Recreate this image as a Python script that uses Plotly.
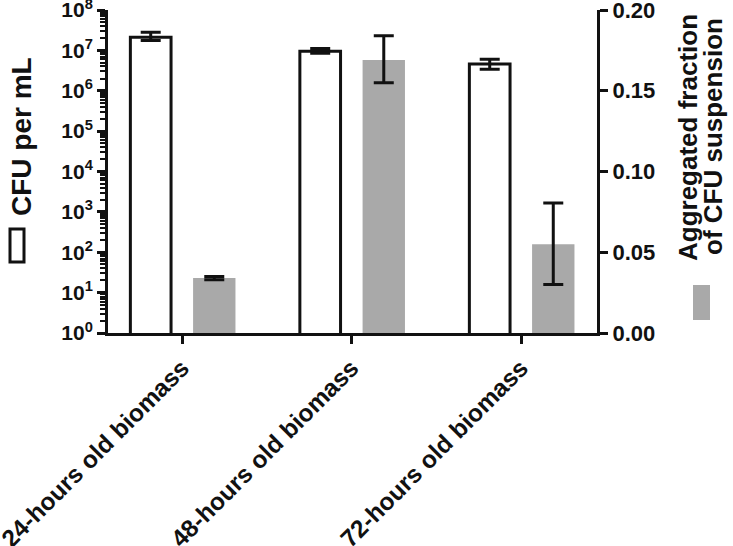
import plotly.graph_objects as go

categories = ["24-hours old biomass", "48-hours old biomass", "72-hours old biomass"]
cfu_mean = [2.1e7, 9.5e6, 4.6e6]
cfu_upper = [2.8e7, 1.12e7, 6.0e6]
cfu_lower = [1.75e7, 8.5e6, 3.4e6]
agg_mean = [0.034, 0.169, 0.055]
agg_upper = [0.035, 0.184, 0.0805]
agg_lower = [0.033, 0.155, 0.030]
log_tick_exponents = list(range(0, 9))
right_ticks = [0.00, 0.05, 0.10, 0.15, 0.20]

x = list(range(len(categories)))
BLACK = "#111111"
GREY = "#a9a9a9"
FONT = "Liberation Sans"

L, R, T, B = 108, 136, 10, 213
PW, PH = 733 - L - R, 546 - T - B


def px(xp):
    return (xp - L) / PW


def py(yp):
    return (546 - B - yp) / PH


fig = go.Figure()
fig.add_trace(go.Bar(
    x=x, y=cfu_mean, yaxis="y",
    offset=-0.305, width=0.24,
    marker=dict(color="white", line=dict(color=BLACK, width=3)),
    error_y=dict(type="data", symmetric=False,
                 array=[u - m for u, m in zip(cfu_upper, cfu_mean)],
                 arrayminus=[m - l for m, l in zip(cfu_mean, cfu_lower)],
                 color=BLACK, thickness=3, width=10),
    showlegend=False,
))
fig.add_trace(go.Bar(
    x=x, y=agg_mean, yaxis="y2",
    offset=0.065, width=0.25,
    marker=dict(color=GREY, line=dict(width=0)),
    error_y=dict(type="data", symmetric=False,
                 array=[u - m for u, m in zip(agg_upper, agg_mean)],
                 arrayminus=[m - l for m, l in zip(agg_mean, agg_lower)],
                 color=BLACK, thickness=3, width=10),
    showlegend=False,
))

minor_vals = [k * 10 ** e for e in log_tick_exponents[:-1] for k in range(2, 10)]

fig.update_layout(
    template="none",
    width=733, height=546,
    margin=dict(l=L, r=R, t=T, b=B, autoexpand=False),
    paper_bgcolor="white", plot_bgcolor="white",
    barmode="overlay",
    xaxis=dict(
        range=[-0.437, 2.448], tickmode="array", tickvals=x, ticktext=categories,
        tickangle=-45, showline=True, linecolor=BLACK, linewidth=3,
        ticks="outside", ticklen=8, tickwidth=3, tickcolor=BLACK,
        showgrid=False, zeroline=False, automargin=False,
        ticklabeloverflow="allow",
        tickfont=dict(family=FONT, size=24.5, color=BLACK, weight="bold"),
    ),
    yaxis=dict(
        type="log", range=[0, 8],
        tickmode="array", tickvals=[10 ** e for e in log_tick_exponents],
        ticktext=[f"10<sup>{e}</sup>" for e in log_tick_exponents],
        showline=True, linecolor=BLACK, linewidth=3,
        ticks="outside", ticklen=8, tickwidth=3, tickcolor=BLACK,
        minor=dict(tickmode="array", tickvals=minor_vals, ticks="outside",
                   ticklen=5, tickwidth=2, tickcolor=BLACK, showgrid=False),
        showgrid=False, zeroline=False, automargin=False,
        ticklabeloverflow="allow",
        tickfont=dict(family=FONT, size=21, color=BLACK, weight="bold"),
    ),
    yaxis2=dict(
        overlaying="y", side="right", range=[0, 0.2],
        tickmode="array", tickvals=right_ticks,
        ticktext=[f"{v:.2f}" for v in right_ticks],
        showline=True, linecolor=BLACK, linewidth=3,
        ticks="outside", ticklen=8, tickwidth=3, tickcolor=BLACK,
        showgrid=False, zeroline=False, automargin=False,
        ticklabeloverflow="allow",
        tickfont=dict(family=FONT, size=22, color=BLACK, weight="bold"),
    ),
    annotations=[
        dict(text="<b>CFU per mL</b>", xref="paper", yref="paper",
             x=px(21), y=py(137), textangle=-90,
             showarrow=False, xanchor="center", yanchor="middle",
             font=dict(family=FONT, size=28, color=BLACK)),
        dict(text="<b>Aggregated fraction</b>", xref="paper", yref="paper",
             x=px(688), y=py(138), textangle=-90,
             showarrow=False, xanchor="center", yanchor="middle",
             font=dict(family=FONT, size=26, color=BLACK)),
        dict(text="<b>of CFU suspension</b>", xref="paper", yref="paper",
             x=px(713), y=py(137), textangle=-90,
             showarrow=False, xanchor="center", yanchor="middle",
             font=dict(family=FONT, size=26, color=BLACK)),
    ],
    shapes=[
        dict(type="rect", xref="paper", yref="paper",
             x0=px(10), x1=px(24), y0=py(262), y1=py(229),
             line=dict(color=BLACK, width=3), fillcolor="white"),
        dict(type="rect", xref="paper", yref="paper",
             x0=px(693), x1=px(710), y0=py(320), y1=py(285),
             line=dict(width=0), fillcolor=GREY),
    ],
)

fig.write_html("out.html", config={"displayModeBar": False},
               post_script="document.body.style.margin='0';")
